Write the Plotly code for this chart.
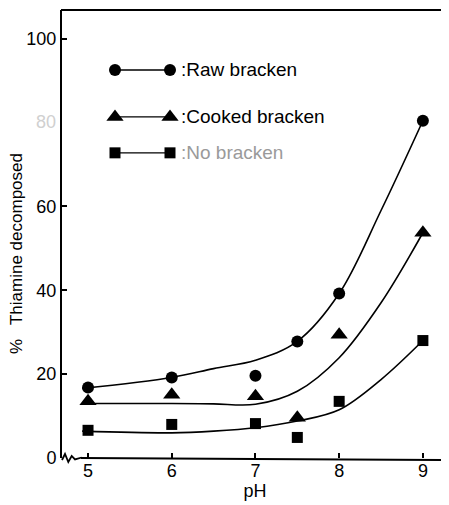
import plotly.graph_objects as go

# ---- data ----
ph = [5, 6, 7, 7.5, 8, 9]
raw_bracken = [16.8, 19.2, 19.6, 27.8, 39.2, 80.4]
cooked_bracken = [13.5, 15.1, 14.7, 9.6, 29.4, 53.7]
no_bracken = [6.6, 8.0, 8.2, 4.9, 13.5, 28.0]

# smooth fitted curves (as drawn in the figure)
fit_ph = [4.93, 6, 6.5, 7, 7.5, 8, 8.5, 9]
raw_fit = [16.6, 19.2, 21.3, 23.3, 27.8, 39.2, 59.0, 80.4]
cooked_fit = [13.0, 13.0, 12.9, 12.8, 15.9, 23.9, 37.0, 53.7]
no_fit = [6.4, 6.0, 6.4, 7.2, 8.8, 11.5, 18.7, 28.0]

x_ticks = [5, 6, 7, 8, 9]
y_ticks = [0, 20, 40, 60, 100]

series = [
    ("Raw bracken", raw_bracken, raw_fit, "circle", 12, "black"),
    ("Cooked bracken", cooked_bracken, cooked_fit, "triangle-up", 15, "black"),
    ("No bracken", no_bracken, no_fit, "square", 11, "black"),
]

FONT = "Liberation Sans, Arial, Helvetica, sans-serif"
fig = go.Figure()

for name, vals, fit, sym, size, col in series:
    fig.add_trace(go.Scatter(x=fit_ph, y=fit, mode="lines",
                             line=dict(color="black", width=1.6, shape="spline", smoothing=1.0),
                             hoverinfo="skip", showlegend=False))
    fig.add_trace(go.Scatter(x=ph, y=vals, mode="markers", name=name,
                             marker=dict(symbol=sym, size=size, color=col),
                             showlegend=False))

# ---- hand-drawn style legend on an overlay pixel axis ----
leg_rows_y = [70, 117, 153]
leg_x = [115, 170]
leg_text_x = 179
leg_text_colors = ["black", "black", "#9a9a9a"]
for (name, vals, fit, sym, size, col), ry, tc in zip(series, leg_rows_y, leg_text_colors):
    fig.add_trace(go.Scatter(x=leg_x, y=[ry, ry], mode="lines+markers", xaxis="x2", yaxis="y2",
                             line=dict(color="black", width=1.4),
                             marker=dict(symbol=sym, size=size, color=col),
                             hoverinfo="skip", showlegend=False))
    fig.add_annotation(x=leg_text_x, y=ry, xref="x2", yref="y2", text=":" + name,
                       showarrow=False, xanchor="left", yanchor="middle",
                       font=dict(family=FONT, size=19, color=tc))

# page has an 8px body margin; figure sized so the plot area lands where the reference has it
fig.update_layout(
    width=441, height=497,
    margin=dict(l=54, r=1, t=2, b=47),
    paper_bgcolor="white", plot_bgcolor="white",
    font=dict(family=FONT, size=18, color="black"),
    xaxis=dict(range=[4.689, 9.30], tickvals=x_ticks, ticks="inside", ticklen=5,
               tickcolor="black", tickwidth=1.5, showline=False,
               showgrid=False, zeroline=False,
               title=dict(text="pH", standoff=4, font=dict(size=18)),
               tickfont=dict(size=18)),
    yaxis=dict(range=[0, 106.8], tickvals=y_ticks, ticks="inside", ticklen=5,
               tickcolor="black", tickwidth=1.5, showline=True, linecolor="black", linewidth=2,
               mirror=False, showgrid=False, zeroline=False, tickfont=dict(size=18)),
    xaxis2=dict(range=[62, 448], overlaying="x", visible=False, fixedrange=True),
    yaxis2=dict(range=[458.5, 10], overlaying="y", visible=False, fixedrange=True),
)

# faded 80 label as in the scan
fig.add_annotation(x=0, y=80, xref="paper", yref="y", text="80", showarrow=False,
                   xanchor="right", xshift=-4, font=dict(family=FONT, size=18, color="#d0d0d0"))

# y-axis title
fig.add_annotation(x=0, y=(458 - 254) / 448, xref="paper", yref="paper",
                   text="%   Thiamine decomposed", textangle=-90, showarrow=False,
                   xanchor="center", yanchor="middle", xshift=-46,
                   font=dict(family=FONT, size=17, color="black"))


def px(xp):
    return (xp - 62) / 386


def py(yp):
    return (458 - yp) / 448


# frame lines (top thick, right thin/faint, bottom starting after the break)
fig.add_shape(type="line", xref="paper", yref="paper", x0=px(61), x1=px(449), y0=py(10), y1=py(10),
              line=dict(color="black", width=2))
fig.add_shape(type="line", xref="paper", yref="paper", x0=px(448), x1=px(448), y0=py(10), y1=py(458),
              line=dict(color="#888888", width=1))
fig.add_shape(type="line", xref="paper", yref="paper", x0=px(81), x1=px(448), y0=py(458), y1=py(460),
              line=dict(color="black", width=2))
# axis break zigzag near origin
zig = [(62, 460), (65, 454), (68.3, 462), (71.7, 456), (75, 459.5), (81.7, 457.5)]
path = "M " + " L ".join(f"{px(a):.4f} {py(b):.4f}" for a, b in zig)
fig.add_shape(type="path", xref="paper", yref="paper", path=path,
              line=dict(color="black", width=1.8))

fig.write_html("out.html")
